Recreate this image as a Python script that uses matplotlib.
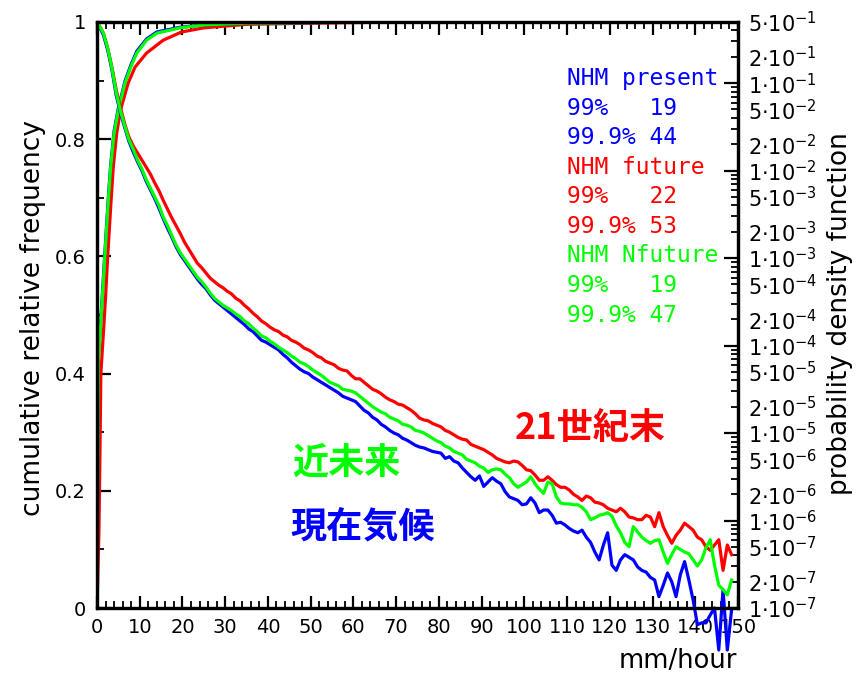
import numpy as np
import matplotlib
matplotlib.use("Agg")
import matplotlib.pyplot as plt
from matplotlib.ticker import FixedLocator, FixedFormatter, MultipleLocator

plt.rcParams["font.family"] = ["DejaVu Sans"]

# ---------------------------------------------------------------------------
# data
# ---------------------------------------------------------------------------
# 1 mm/hour rain-rate bins (bin centres)
rain_bins = np.arange(0.5, 149.0, 1.0)

# probability density function, stored as log10 values
pdf_present_log10 = [
    -0.35, -0.45, -0.62, -0.85, -1.14, -1.34, -1.51, -1.67, -1.79, -1.90,
    -2.00, -2.12, -2.22, -2.32, -2.43, -2.55, -2.66, -2.76, -2.87, -2.96,
    -3.03, -3.10, -3.17, -3.24, -3.30, -3.35, -3.42, -3.48, -3.52, -3.56,
    -3.60, -3.64, -3.68, -3.72, -3.76, -3.81, -3.84, -3.89, -3.94, -3.96,
    -3.99, -4.02, -4.05, -4.10, -4.14, -4.19, -4.23, -4.27, -4.30, -4.32,
    -4.36, -4.39, -4.42, -4.45, -4.48, -4.51, -4.54, -4.58, -4.60, -4.62,
    -4.64, -4.69, -4.74, -4.77, -4.82, -4.85, -4.90, -4.93, -4.97, -5.00,
    -5.02, -5.06, -5.08, -5.11, -5.14, -5.16, -5.17, -5.19, -5.21, -5.22,
    -5.23, -5.29, -5.27, -5.32, -5.34, -5.40, -5.45, -5.50, -5.54, -5.49,
    -5.61, -5.56, -5.51, -5.55, -5.58, -5.67, -5.73, -5.75, -5.77, -5.82,
    -5.81, -5.74, -5.80, -5.91, -5.88, -5.88, -5.94, -6.03, -6.02, -6.05,
    -6.09, -6.12, -6.14, -6.11, -6.19, -6.25, -6.36, -6.45, -6.28, -6.14,
    -6.51, -6.57, -6.45, -6.39, -6.42, -6.45, -6.53, -6.57, -6.59, -6.65,
    -6.68, -6.87, -6.74, -6.60, -6.70, -6.87, -6.62, -6.47, -6.68, -6.91,
    -7.19, -7.17, -7.17, -7.08, -7.00, -7.48, -6.79, -7.48, -7.02,
]

pdf_future_log10 = [
    -0.34, -0.43, -0.60, -0.82, -1.08, -1.28, -1.47, -1.62, -1.72, -1.80,
    -1.88, -1.96, -2.04, -2.14, -2.23, -2.34, -2.44, -2.54, -2.63, -2.72,
    -2.82, -2.90, -2.98, -3.06, -3.11, -3.17, -3.23, -3.27, -3.31, -3.34,
    -3.38, -3.41, -3.46, -3.49, -3.54, -3.58, -3.63, -3.67, -3.72, -3.75,
    -3.79, -3.82, -3.84, -3.88, -3.90, -3.94, -3.96, -3.99, -4.03, -4.05,
    -4.08, -4.12, -4.14, -4.18, -4.20, -4.22, -4.26, -4.28, -4.29, -4.34,
    -4.38, -4.38, -4.42, -4.46, -4.50, -4.52, -4.55, -4.59, -4.62, -4.64,
    -4.67, -4.68, -4.71, -4.74, -4.78, -4.83, -4.85, -4.86, -4.89, -4.91,
    -4.93, -4.97, -4.99, -5.02, -5.05, -5.07, -5.08, -5.13, -5.15, -5.17,
    -5.19, -5.22, -5.25, -5.29, -5.31, -5.33, -5.34, -5.32, -5.33, -5.37,
    -5.42, -5.43, -5.48, -5.54, -5.54, -5.50, -5.54, -5.59, -5.62, -5.62,
    -5.65, -5.70, -5.73, -5.77, -5.72, -5.74, -5.79, -5.80, -5.82, -5.86,
    -5.88, -5.90, -5.86, -5.90, -5.96, -5.97, -5.99, -5.99, -5.94, -5.96,
    -6.07, -5.91, -6.07, -6.17, -6.26, -6.17, -6.11, -6.03, -6.07, -6.11,
    -6.19, -6.22, -6.30, -6.34, -6.28, -6.22, -6.57, -6.28, -6.39,
]

pdf_nfuture_log10 = [
    -0.34, -0.43, -0.60, -0.83, -1.11, -1.32, -1.49, -1.65, -1.76, -1.88,
    -1.98, -2.10, -2.20, -2.30, -2.40, -2.53, -2.63, -2.74, -2.85, -2.94,
    -3.01, -3.08, -3.15, -3.22, -3.27, -3.33, -3.40, -3.46, -3.50, -3.54,
    -3.57, -3.60, -3.64, -3.67, -3.72, -3.75, -3.80, -3.84, -3.89, -3.91,
    -3.95, -3.98, -4.02, -4.05, -4.08, -4.12, -4.15, -4.19, -4.21, -4.24,
    -4.28, -4.31, -4.34, -4.38, -4.42, -4.44, -4.46, -4.50, -4.51, -4.52,
    -4.54, -4.58, -4.62, -4.66, -4.70, -4.73, -4.76, -4.78, -4.82, -4.84,
    -4.86, -4.90, -4.91, -4.93, -4.97, -4.98, -5.00, -5.03, -5.06, -5.09,
    -5.11, -5.15, -5.17, -5.21, -5.23, -5.25, -5.30, -5.32, -5.34, -5.38,
    -5.40, -5.45, -5.42, -5.41, -5.42, -5.47, -5.51, -5.58, -5.62, -5.59,
    -5.56, -5.50, -5.58, -5.64, -5.69, -5.56, -5.58, -5.73, -5.80, -5.81,
    -5.81, -5.82, -5.82, -5.85, -5.90, -5.99, -5.97, -5.94, -5.93, -5.91,
    -5.95, -6.06, -6.14, -6.25, -6.30, -6.07, -6.13, -6.19, -6.23, -6.26,
    -6.23, -6.22, -6.36, -6.49, -6.39, -6.30, -6.33, -6.36, -6.38, -6.45,
    -6.52, -6.45, -6.31, -6.22, -6.51, -6.74, -6.79, -6.85, -6.68,
]

# cumulative relative frequency
cdf_x_present = [0, 0.3, 1, 2, 2.65, 3.2, 4.0, 5.0, 6.55, 7.9, 9.3, 11.6,
                 14, 19.4, 25, 35, 50, 70, 150]
cdf_present = [0, 0.425, 0.505, 0.625, 0.70, 0.756, 0.814, 0.853, 0.899,
               0.926, 0.950, 0.971, 0.983, 0.991, 0.995, 0.998, 0.999, 1.0, 1.0]
cdf_x_nfuture = cdf_x_present
cdf_nfuture = [0, 0.42, 0.50, 0.62, 0.696, 0.752, 0.81, 0.85, 0.896, 0.923,
               0.947, 0.969, 0.981, 0.99, 0.995, 0.998, 0.999, 1.0, 1.0]
cdf_x_future = [0, 0.45, 0.7, 0.9, 1.5, 2, 2.5, 3.3, 3.8, 4.6, 5.5, 7.3, 8.9,
                11.6, 15.5, 19.8, 25, 35, 50, 70, 150]
cdf_future = [0, 0.13, 0.27, 0.40, 0.47, 0.53, 0.60, 0.696, 0.752, 0.81,
              0.85, 0.896, 0.923, 0.947, 0.969, 0.983, 0.99, 0.996, 0.998,
              1.0, 1.0]

# run summary: 99th and 99.9th percentile rain rates (mm/hour)
run_names = ["NHM present", "NHM future", "NHM Nfuture"]
run_colors = ["#0000ff", "#ff0000", "#00ff00"]
p99 = [19, 22, 19]
p999 = [44, 53, 47]

# axis ticks
x_ticks = list(range(0, 151, 10))
cdf_ticks = [0, 0.2, 0.4, 0.6, 0.8, 1]
cdf_tick_labels = ["0", "0.2", "0.4", "0.6", "0.8", "1"]
pdf_decades = [1e-7, 1e-6, 1e-5, 1e-4, 1e-3, 1e-2, 1e-1]
pdf_exponents = [-7, -6, -5, -4, -3, -2, -1]
pdf_labelled_mantissas = [2, 5]

# ---------------------------------------------------------------------------
# figure
# ---------------------------------------------------------------------------
W, H = 864, 674
fig = plt.figure(figsize=(W / 100, H / 100), dpi=100)
ax = fig.add_axes([97 / W, 1 - 608 / H, (738 - 97) / W, (608 - 22) / H])
ax2 = ax.twinx()

BLUE, RED, GREEN = run_colors[0], run_colors[1], run_colors[2]
LW = 2.3

# cumulative curves (left axis)
ax.plot(cdf_x_future, cdf_future, color=RED, lw=LW, zorder=2)
ax.plot(cdf_x_present, cdf_present, color=BLUE, lw=LW, zorder=2)
ax.plot(cdf_x_nfuture, cdf_nfuture, color=GREEN, lw=LW, zorder=2)

# density curves (right, logarithmic axis)
ax2.plot(rain_bins, 10 ** np.array(pdf_future_log10), color=RED, lw=LW)
ax2.plot(rain_bins, 10 ** np.array(pdf_present_log10), color=BLUE, lw=LW,
         clip_on=False)
ax2.plot(rain_bins, 10 ** np.array(pdf_nfuture_log10), color=GREEN, lw=LW)

ax.set_xlim(0, 150)
ax.set_ylim(0, 1)
ax2.set_yscale("log")
ax2.set_ylim(1e-7, 5e-1)

TICK_FS = 14
# x axis ticks
ax.set_xticks(x_ticks)
ax.set_xticklabels([str(v) for v in x_ticks])
ax.xaxis.set_minor_locator(MultipleLocator(2))
ax.tick_params(axis="x", which="major", direction="in", length=9, width=1.6,
               top=True, bottom=True, labelsize=TICK_FS, pad=7)
ax.tick_params(axis="x", which="minor", direction="in", length=5, width=1.3,
               top=True, bottom=True)

# left axis ticks
ax.set_yticks(cdf_ticks)
ax.set_yticklabels(cdf_tick_labels)
ax.yaxis.set_minor_locator(MultipleLocator(0.1))
ax.tick_params(axis="y", which="major", direction="in", length=10, width=1.6,
               left=True, right=False, labelsize=TICK_FS, pad=8)
ax.tick_params(axis="y", which="minor", direction="in", length=5, width=1.3,
               left=True, right=False)

# right axis ticks: decades long, 2..9 short, labels at 1, 2 and 5
minor_pos, minor_lab = [], []
for e in pdf_exponents + [0]:
    for m in range(2, 10):
        v = m * 10.0 ** e
        if v > 5e-1 * 1.0001:
            continue
        minor_pos.append(v)
        if m in pdf_labelled_mantissas:
            minor_lab.append(r"$%d{\cdot}10^{%d}$" % (m, e))
        else:
            minor_lab.append("")
ax2.yaxis.set_major_locator(FixedLocator(pdf_decades))
ax2.yaxis.set_major_formatter(FixedFormatter(
    [r"$1{\cdot}10^{%d}$" % e for e in pdf_exponents]))
ax2.yaxis.set_minor_locator(FixedLocator(minor_pos))
ax2.yaxis.set_minor_formatter(FixedFormatter(minor_lab))
ax2.tick_params(axis="y", which="major", direction="in", length=10, width=1.6,
                right=True, left=False, labelsize=15, pad=7)
ax2.tick_params(axis="y", which="minor", direction="in", length=5, width=1.3,
                right=True, left=False, labelsize=15, pad=7)

for a in (ax, ax2):
    for s in a.spines.values():
        s.set_linewidth(2.3)
        s.set_color("black")


def fx(px):
    return px / W


def fy(py):
    return 1 - py / H


# axis titles
fig.text(fx(33), fy(318), "cumulative relative frequency", rotation=90,
         ha="center", va="center", fontsize=19)
fig.text(fx(840), fy(314), "probability density function", rotation=90,
         ha="center", va="center", fontsize=19)
fig.text(fx(737), fy(661), "mm/hour", ha="right", va="center", fontsize=18.5)

# percentile summary
row_y = 79
for name, col, a, b in zip(run_names, run_colors, p99, p999):
    for line in (name, "99%%   %d" % a, "99.9%% %d" % b):
        fig.text(fx(567), fy(row_y), line, color=col, ha="left", va="center",
                 fontsize=16.5, family="DejaVu Sans Mono")
        row_y += 29.5

# period labels
jp = dict(family=["Noto Sans CJK JP", "DejaVu Sans"], fontweight="bold",
          fontsize=26, ha="left", va="center")
fig.text(fx(515), fy(428), "21世紀末", color=RED, **jp)
fig.text(fx(292), fy(463), "近未来", color=GREEN, **jp)
fig.text(fx(290), fy(527), "現在気候", color=BLUE, **jp)

fig.savefig("out.png", dpi=100)
